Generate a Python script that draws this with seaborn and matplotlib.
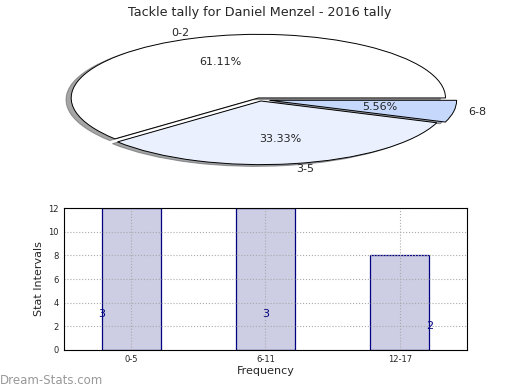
import matplotlib
matplotlib.use('Agg')
import matplotlib.pyplot as plt
import pandas as pd
import seaborn as sns

# pie data
pie_labels = ['0-2', '3-5', '6-8']
pie_counts = [11, 6, 1]
pie_colors = ['#ffffff', '#eaf0fd', '#c6d9fd']

# bar data
bar_cats = ['0-5', '6-11', '12-17']
bar_vals = [12, 12, 8]
bar_notes = ['3', '3', '2']
note_y = [3, 3, 2]

sns.set_style('white')
plt.rcParams['font.family'] = ['DejaVu Sans']

fig = plt.figure(figsize=(5.2, 3.9), dpi=100)
fig.suptitle('Tackle tally for Daniel Menzel - 2016 tally', fontsize=9.2, y=0.985)

# pie, squashed into an ellipse
ax1 = fig.add_axes([0.128, 0.555, 0.745, 0.385])
wedges, texts, autotexts = ax1.pie(pie_counts, labels=pie_labels, colors=pie_colors,
                                   explode=[0.03, 0.02, 0.05], startangle=0,
                                   autopct='%.2f%%', pctdistance=0.6, labeldistance=1.08,
                                   shadow=True,
                                   wedgeprops=dict(edgecolor='black', linewidth=0.7),
                                   textprops=dict(fontsize=8))
ax1.set_aspect('auto')
ax1.set_xlim(-1.035, 1.035)
ax1.set_ylim(-1.16, 1.2)

# bars
ax2 = fig.add_axes([0.123, 0.103, 0.775, 0.363])
df = pd.DataFrame({'cat': bar_cats, 'val': bar_vals})
sns.barplot(data=df, x='cat', y='val', ax=ax2, color='#cdcde4', saturation=1,
            width=0.44, edgecolor='#000080', linewidth=0.9)
ax2.set_xlim(-0.5, 2.5)
ax2.set_ylim(0, 12)
ax2.set_yticks(range(0, 13, 2))
ax2.grid(True, linestyle=':', color='#aaaaaa', linewidth=0.8)
ax2.set_axisbelow(False)
for s in ax2.spines.values():
    s.set_color('black')
    s.set_linewidth(0.8)
    s.set_zorder(5)
ax2.tick_params(labelsize=6, length=2, pad=2)
ax2.set_xlabel('Frequency', fontsize=8, labelpad=1)
ax2.set_ylabel('Stat Intervals', fontsize=8, labelpad=3)
for i, (t, y) in enumerate(zip(bar_notes, note_y)):
    xo = -0.22 if i < 2 else 0.22
    if i == 1:
        xo = 0.0
    ax2.text(i + xo, y, t, color='#000080', fontsize=8, ha='center', va='center')

fig.text(0.0, 0.025, 'Dream-Stats.com', color='#999999', fontsize=8.5, ha='left', va='center')

fig.savefig('out.png', dpi=100)
